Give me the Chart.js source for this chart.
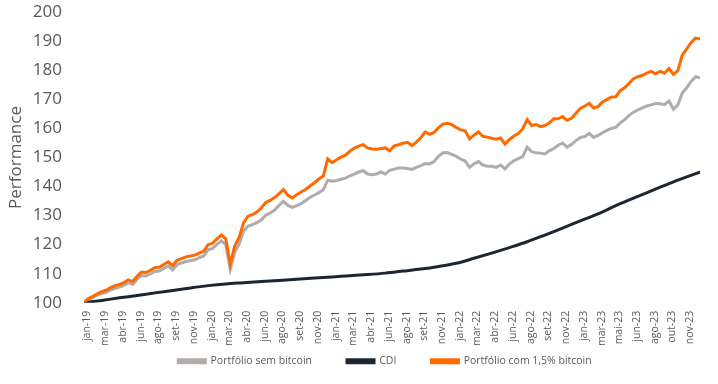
<!DOCTYPE html>
<html>
<head>
<meta charset="utf-8">
<script src="https://cdn.jsdelivr.net/npm/chart.js@4.4.0/dist/chart.umd.min.js"></script>
<style>
  html, body { margin: 0; padding: 0; background: #ffffff; }
  #wrap { width: 718px; height: 384px; position: relative; }
</style>
</head>
<body>
<div id="wrap"><canvas id="c" width="718" height="384"></canvas></div>
<script>
// Axis tick labels (one every 36 trading days)
const tickLabels = ['jan-19','mar-19','abr-19','jun-19','ago-19','set-19','nov-19',
  'jan-20','mar-20','abr-20','jun-20','ago-20','set-20','nov-20',
  'jan-21','mar-21','abr-21','jun-21','ago-21','set-21','nov-21',
  'jan-22','mar-22','abr-22','jun-22','ago-22','set-22','nov-22',
  'jan-23','mar-23','mai-23','jun-23','ago-23','out-23','nov-23'];
const tickStepDays = 36;      // trading days between labels
const tickOffsetDays = 7;     // first labelled day
const sampleStepDays = 9;     // trading days between portfolio samples
const lastDay = 1251;

// Portfólio sem bitcoin (sampled every 9 trading days)
const semBitcoin = [
  100.1,101.1,101.8,102.6,103.2,103.6,104.4,105.0,105.4,106.0,
  106.9,106.3,108.1,109.4,109.2,110.0,110.8,110.9,111.8,112.7,
  111.3,113.1,113.7,114.2,114.5,114.8,115.5,116.1,118.2,118.7,
  120.1,121.3,120.0,111.6,117.3,120.2,124.6,126.4,126.9,127.6,
  128.5,130.1,130.9,131.9,133.5,134.9,133.5,132.8,133.4,134.1,
  135.2,136.3,137.1,137.9,138.9,142.2,141.8,142.1,142.5,142.9,
  143.7,144.3,145.0,145.5,144.3,144.1,144.3,145.0,144.3,145.6,
  146.0,146.4,146.4,146.2,145.9,146.6,147.2,147.9,147.8,148.6,
  150.4,151.6,151.7,151.1,150.4,149.4,148.8,146.6,147.8,148.6,
  147.4,147.0,147.0,146.6,147.4,146.1,147.8,148.9,149.6,150.3,
  153.6,152.0,151.6,151.5,151.2,152.3,153.1,154.2,155.0,153.6,
  154.5,155.8,156.9,157.2,158.3,156.9,157.6,158.5,159.3,160.0,
  160.4,161.9,163.0,164.5,165.6,166.4,167.1,167.7,168.1,168.6,
  168.5,168.2,169.4,166.6,168.1,172.2,174.0,176.2,177.8,177.4
];

// Portfólio com 1,5% bitcoin (sampled every 9 trading days)
const comBitcoin = [
  100.2,101.5,102.2,103.1,103.8,104.3,105.2,105.9,106.3,106.9,
  107.9,107.3,109.2,110.6,110.4,111.2,112.1,112.2,113.2,114.1,
  112.8,114.6,115.2,115.8,116.1,116.4,117.1,117.8,120.0,120.5,
  122.0,123.3,122.0,113.2,119.5,122.5,127.5,129.8,130.3,131.2,
  132.6,134.5,135.2,136.2,137.5,139.0,137.0,136.1,137.2,138.1,
  139.0,140.2,141.3,142.6,143.6,149.5,148.2,149.2,150.1,150.8,
  152.2,153.2,153.9,154.4,153.3,152.9,152.8,153.1,153.3,152.3,
  154.0,154.4,154.9,155.2,154.1,155.3,156.8,158.8,158.0,158.6,
  160.3,161.5,161.8,161.3,160.3,159.5,159.2,156.4,157.7,158.8,
  157.3,157.0,156.6,156.3,156.7,154.6,156.2,157.4,158.2,159.9,
  163.0,161.0,161.3,160.6,161.0,161.9,163.3,163.3,164.1,162.8,
  163.5,165.2,166.9,167.7,168.6,167.0,167.5,169.1,169.9,170.8,
  170.9,173.0,174.0,175.5,177.1,177.8,178.3,179.0,179.6,178.8,
  179.6,179.0,180.6,178.6,179.9,185.2,187.4,189.6,191.1,190.8
];

// CDI (sampled every 36 trading days)
const cdi = [
  100.0,100.8,101.7,102.5,103.4,104.2,105.1,105.9,106.5,106.9,
  107.3,107.7,108.1,108.5,108.9,109.3,109.7,110.2,110.9,111.6,
  112.5,113.6,115.3,117.1,119.0,121.0,123.3,125.7,128.2,130.6,
  133.4,136.0,138.5,141.0,143.3,145.5
];

const seriesNames = ['Portfólio sem bitcoin', 'CDI', 'Portfólio com 1,5% bitcoin'];
const yTicks = { min: 100, max: 200, step: 10 };

const toPoints = (arr, step) => arr.map((v, i) => ({ x: i * step, y: v }));

const textColor = '#595959';
const fam = '"Open Sans", "Noto Sans", sans-serif';
const legendPad = 35;

// legend: keep wide horizontal spacing but a compact row
const legendPlace = {
  id: 'legendPlace',
  afterLayout(chart) {
    const lg = chart.legend;
    if (lg) { lg.left += 35; lg.right += 35; lg.top -= (legendPad - 10); }
  }
};

new Chart(document.getElementById('c'), {
  type: 'line',
  data: {
    datasets: [
      { label: seriesNames[0], data: toPoints(semBitcoin, sampleStepDays),
        borderColor: '#B1ACAA', backgroundColor: '#B1ACAA', borderWidth: 3,
        pointRadius: 0, tension: 0, order: 2 },
      { label: seriesNames[1], data: toPoints(cdi, tickStepDays),
        borderColor: '#1C2631', backgroundColor: '#1C2631', borderWidth: 3,
        pointRadius: 0, cubicInterpolationMode: 'monotone', order: 1 },
      { label: seriesNames[2], data: toPoints(comBitcoin, sampleStepDays),
        borderColor: '#FF6A00', backgroundColor: '#FF6A00', borderWidth: 3,
        pointRadius: 0, tension: 0, order: 0 }
    ]
  },
  plugins: [legendPlace],
  options: {
    responsive: false,
    animation: false,
    devicePixelRatio: 1,
    layout: { padding: { top: 1, right: 18, bottom: 6, left: 0 } },
    plugins: {
      tooltip: { enabled: false },
      legend: {
        position: 'bottom',
        maxHeight: 32,
        labels: {
          sort: (a, b) => a.datasetIndex - b.datasetIndex,
          boxWidth: 27, boxHeight: 3, padding: legendPad,
          color: textColor, font: { family: fam, size: 10.5 }
        }
      }
    },
    scales: {
      x: {
        type: 'linear', min: 0, max: lastDay,
        grid: { display: true, drawOnChartArea: false, drawTicks: true, tickLength: 8, color: 'rgba(0,0,0,0)' },
        border: { display: false },
        afterBuildTicks: (s) => { s.ticks = tickLabels.map((_, k) => ({ value: tickOffsetDays + k * tickStepDays })); },
        ticks: {
          autoSkip: false, minRotation: 90, maxRotation: 90, padding: 0,
          color: textColor, font: { family: fam, size: 10.5 },
          callback: (v, i) => tickLabels[i]
        }
      },
      y: {
        min: yTicks.min, max: yTicks.max,
        grid: { display: true, drawOnChartArea: false, drawTicks: true, tickLength: 20, color: 'rgba(0,0,0,0)' },
        border: { display: false },
        afterFit: (s) => { s.width = 84; },
        ticks: { stepSize: yTicks.step, padding: 2, color: textColor, font: { family: fam, size: 17 } },
        title: { display: true, text: 'Performance', color: textColor,
                 font: { family: fam, size: 17 }, padding: { top: 6, bottom: 0 } }
      }
    }
  }
});
</script>
</body>
</html>
